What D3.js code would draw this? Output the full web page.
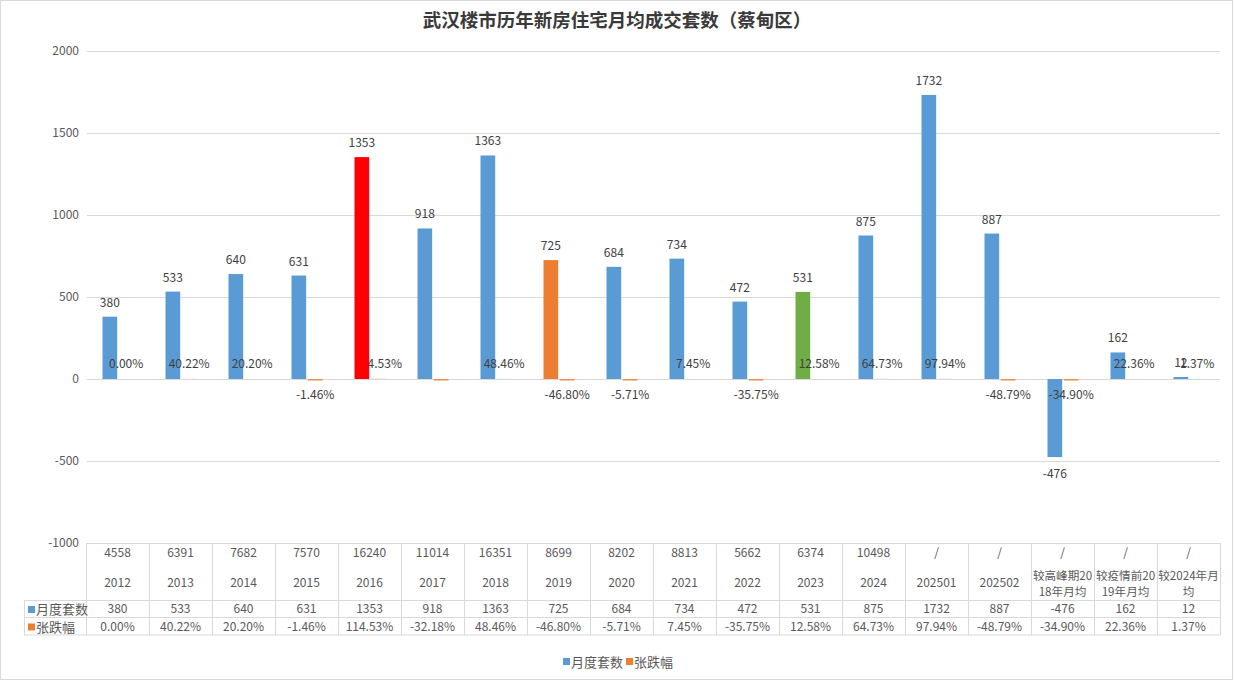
<!DOCTYPE html>
<html><head><meta charset="utf-8">
<script src="https://cdn.jsdelivr.net/npm/d3@7/dist/d3.min.js"></script>
<style>
html,body{margin:0;padding:0;background:#fff;}
svg{display:block;font-family:"Noto Sans CJK SC","Microsoft YaHei",sans-serif;}
</style></head>
<body>
<svg id="chart" width="1235" height="682"></svg>
<script>
// ---- data ----
const categories = ["2012","2013","2014","2015","2016","2017","2018","2019","2020","2021","2022","2023","2024","202501","202502","较高峰期2018年月均","较疫情前2019年月均","较2024年月均"];
const categoryLines = [["2012"],["2013"],["2014"],["2015"],["2016"],["2017"],["2018"],["2019"],["2020"],["2021"],["2022"],["2023"],["2024"],["202501"],["202502"],["较高峰期20","18年月均"],["较疫情前20","19年月均"],["较2024年月","均"]];
const totals = ["4558","6391","7682","7570","16240","11014","16351","8699","8202","8813","5662","6374","10498","/","/","/","/","/"];
const monthly = [380,533,640,631,1353,918,1363,725,684,734,472,531,875,1732,887,-476,162,12];
const changePct = [0.00,40.22,20.20,-1.46,114.53,-32.18,48.46,-46.80,-5.71,7.45,-35.75,12.58,64.73,97.94,-48.79,-34.90,22.36,1.37];
const seriesNames = ["月度套数","张跌幅"];
const yTicks = [-1000,-500,0,500,1000,1500,2000];
const title = "武汉楼市历年新房住宅月均成交套数（蔡甸区）";

(function(){
// ---- styles ----
const C_BLUE = "#5B9BD5", C_ORANGE = "#ED7D31";
const highlight = {"2016":"#FF0000","2019":"#ED7D31","2023":"#70AD47"};
const coverLabel = {"2016":true};
const hiddenPctLabel = {"2017":true};
const GRID = "#D9D9D9", TXT = "#404040", AX = "#595959";

const svg = d3.select("#chart");
const pLeft = 86, pRight = 1220, pTop = 51, pBottom = 543;

svg.append("rect").attr("x",0.5).attr("y",0.5).attr("width",1232).attr("height",679)
  .attr("fill","#fff").attr("stroke",GRID);

svg.append("text").attr("x",617).attr("y",27).attr("text-anchor","middle")
  .attr("font-size",18.5).attr("font-weight","bold").attr("fill","#3a3a3a").text(title);

const x0 = d3.scaleBand().domain(categories).range([pLeft,pRight]).padding(0);
const bw = x0.bandwidth();
const x1 = d3.scaleBand().domain(seriesNames).range([bw/2-15, bw/2+16]).paddingInner(0.1);
const y = d3.scaleLinear().domain([-1000,2000]).range([pBottom, pTop]);

// grid
svg.append("g").selectAll("line").data(yTicks).join("line")
  .attr("x1",pLeft+1).attr("x2",pRight).attr("y1",d=>Math.round(y(d))+0.5).attr("y2",d=>Math.round(y(d))+0.5)
  .attr("stroke",GRID).attr("stroke-width",1);
svg.append("g").selectAll("text").data(yTicks).join("text")
  .attr("x",79).attr("y",d=>y(d)+4).attr("text-anchor","end")
  .attr("font-size",12).attr("fill",AX).text(d=>d);

const idx = c => categories.indexOf(c);

// orange (pct) bars
const gO = svg.append("g");
gO.selectAll("rect").data(categories).join("rect")
  .attr("x",c=>x0(c)+x1("张跌幅")).attr("width",x1.bandwidth())
  .attr("y",c=>changePct[idx(c)]>=0 ? y(changePct[idx(c)]/100) : y(0))
  .attr("height",c=>{const v=changePct[idx(c)]/100; return v>=0 ? Math.abs(y(v)-y(0)) : Math.max(1.5, y(v)-y(0)+1);})
  .attr("fill",C_ORANGE).attr("opacity",0.85);

// blue (monthly) bars
const gB = svg.append("g");
gB.selectAll("rect").data(categories).join("rect")
  .attr("x",c=>x0(c)+x1("月度套数")).attr("width",x1.bandwidth())
  .attr("y",c=>y(Math.max(0,monthly[idx(c)])))
  .attr("height",c=>Math.abs(y(monthly[idx(c)])-y(0)))
  .attr("fill",c=>highlight[c]||C_BLUE);

// pct labels
svg.append("g").selectAll("text").data(categories.filter(c=>!hiddenPctLabel[c])).join("text")
  .attr("x",c=>x0(c)+x1("张跌幅")+x1.bandwidth()/2)
  .attr("y",c=>changePct[idx(c)]>=0 ? y(0)-11 : y(0)+20)
  .attr("text-anchor","middle").attr("font-size",12).attr("fill",TXT)
  .text(c=>changePct[idx(c)].toFixed(2)+"%");

// highlighted bar that covers its neighbour label in the reference
svg.append("g").node().appendChild(gB.selectAll("rect").filter(c=>coverLabel[c]).node());

// monthly labels
svg.append("g").selectAll("text").data(categories).join("text")
  .attr("x",c=>x0(c)+x1("月度套数")+x1.bandwidth()/2)
  .attr("y",c=>monthly[idx(c)]>=0 ? y(monthly[idx(c)])-10 : y(monthly[idx(c)])+21)
  .attr("text-anchor","middle").attr("font-size",12).attr("fill",TXT)
  .text(c=>monthly[idx(c)]);

// ---- data table ----
const rowTop = pBottom, r1 = 600, r2 = 617.5, r3 = 635, legLeft = 24;
const tg = svg.append("g");
const hl = (a,b,yy)=>tg.append("line").attr("x1",a).attr("x2",b).attr("y1",yy).attr("y2",yy).attr("stroke",GRID);
const vl = (xx,a,b)=>tg.append("line").attr("x1",xx).attr("x2",xx).attr("y1",a).attr("y2",b).attr("stroke",GRID);
hl(pLeft,pRight,rowTop+0.5);
hl(legLeft,pRight,r1+0.5); hl(legLeft,pRight,r2); hl(legLeft,pRight,r3);
vl(legLeft+0.5,r1,r3);
categories.forEach(c=>vl(Math.round(x0(c))+0.5,rowTop,r3));
vl(pRight+0.5,rowTop,r3);

const tt = svg.append("g").attr("font-size",12).attr("fill",AX).attr("text-anchor","middle");
categories.forEach((c,i)=>{
  const cx = x0(c)+bw/2;
  tt.append("text").attr("x",cx).attr("y",557).text(totals[i]);
  const lines = categoryLines[i];
  if(lines.length===1){
    tt.append("text").attr("x",cx).attr("y",587).text(lines[0]);
  } else {
    lines.forEach((l,k)=>tt.append("text").attr("x",cx).attr("y",580+k*16).attr("font-size",11.6).text(l));
  }
  tt.append("text").attr("x",cx).attr("y",613).text(monthly[i]);
  tt.append("text").attr("x",cx).attr("y",631).text(changePct[i].toFixed(2)+"%");
});
// legend keys in table
[[C_BLUE,"月度套数",r1],[C_ORANGE,"张跌幅",r2]].forEach(([col,name,ry])=>{
  svg.append("rect").attr("x",28).attr("y",ry+6).attr("width",7).attr("height",7).attr("fill",col);
  svg.append("text").attr("x",36).attr("y",ry+14).attr("font-size",13).attr("fill",AX).text(name);
});

// bottom legend
const lg = svg.append("g");
[[C_BLUE,"月度套数",563],[C_ORANGE,"张跌幅",626]].forEach(([col,name,lx])=>{
  lg.append("rect").attr("x",lx).attr("y",658).attr("width",7).attr("height",7).attr("fill",col);
  lg.append("text").attr("x",lx+8).attr("y",667).attr("font-size",13).attr("fill",AX).text(name);
});
})();
</script>
</body></html>
